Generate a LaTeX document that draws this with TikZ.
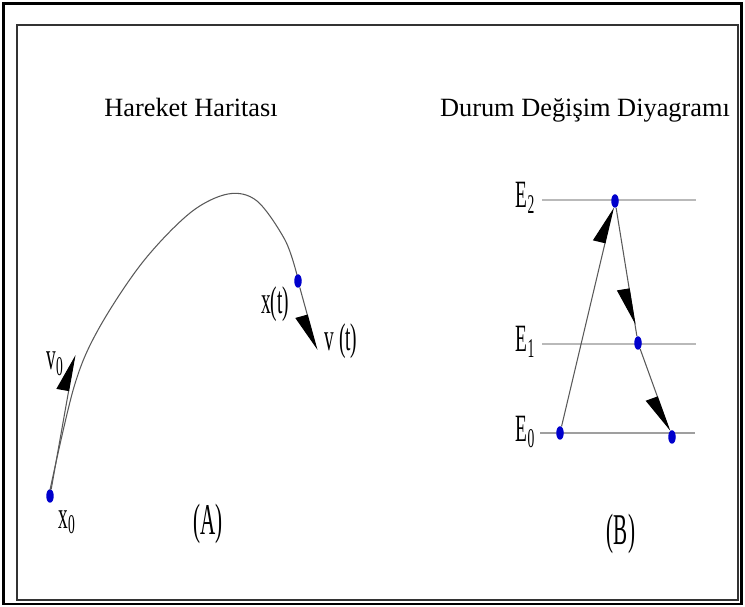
\documentclass[tikz,border=0pt]{standalone}
\usepackage{fontspec}
\setmainfont{Liberation Serif}
\usetikzlibrary{positioning,arrows.meta,shapes.geometric,decorations.markings}

\begin{document}
\begin{tikzpicture}[x=0.02cm, y=-0.02cm,
        dot/.style={ellipse, fill=blue!80!black, minimum width=0.15cm, minimum height=0.27cm, inner sep=0pt},
        title/.style={font=\fontsize{15}{18}\selectfont, anchor=base, inner sep=0pt},
        label/.style={font=\fontsize{22}{24}\selectfont, xscale=0.5, inner sep=0pt},
        big label/.style={font=\fontsize{25}{28}\selectfont, xscale=0.48, inner sep=0pt},
        curve/.style={gray!70!black, line width=0.6pt},
        level/.style={gray!55, line width=1.1pt},
        up arrow/.style={-{Triangle[left,length=20pt,width=14pt,color=black]}, gray!70!black, line width=0.6pt},
        down arrow/.style={-{Triangle[right,length=20pt,width=14pt,color=black]}, gray!70!black, line width=0.6pt},
        mid arrow/.style={gray!70!black, line width=0.6pt, postaction={decorate},
            decoration={markings, mark=at position #1 with {\arrow{Triangle[right,length=20pt,width=14pt,color=black]}}}}
    ]
    \useasboundingbox (0,0) rectangle (745,607);
    % Frames
    \draw[line width=1.7pt] (3.5,3.5) rectangle (741.5,604);
    \draw[line width=1pt, gray!40!black] (17,25) rectangle (738,600);

    % Titles
    \node[title] (tA) at (191,117) {Hareket Haritası};
    \node[title] (tB) at (585,117) {Durum Değişim Diyagramı};

    % (A) motion map
    \node[dot] (x0) at (50,496) {};
    \node[dot] (xt) at (298,281) {};
    \coordinate (v0tip) at (75,355);
    \coordinate (vttip) at (317,350);
    \draw[curve] plot[smooth, tension=0.55] coordinates {(50,490) (74,387) (98,330) (142,263) (190,213) (228,194) (257,201) (285,240) (297,275)};
    \draw[up arrow] (x0) -- (v0tip);
    \draw[down arrow] (xt) -- (vttip);
    \node[label] (lv0) at (55,364) {v\textsubscript{0}};
    \node[label] (lx0) at (67,522) {x\textsubscript{0}};
    \node[label] (lxt) at (275,304) {x(t)};
    \node[label] (lvt) at (341,341) {v (t)};
    \node[big label] (lA) at (208,524) {(A)};

    % (B) state diagram
    \coordinate (l2a) at (542,200); \coordinate (l2b) at (696,200);
    \coordinate (l1a) at (542,344); \coordinate (l1b) at (696,344);
    \coordinate (l0a) at (540,433); \coordinate (l0b) at (695,433);
    \draw[level] (l2a) -- (l2b);
    \draw[level] (l1a) -- (l1b);
    \draw[level, gray!75] (l0a) -- (l0b);
    \node[label, anchor=base east] (E2) at (535,208) {E\textsubscript{2}};
    \node[label, anchor=base east] (E1) at (535,352) {E\textsubscript{1}};
    \node[label, anchor=base east] (E0) at (535,442) {E\textsubscript{0}};
    \node[dot] (e2) at (615,201) {};
    \node[dot] (e1) at (638,343) {};
    \node[dot] (e0a) at (560,433) {};
    \node[dot] (e0b) at (672,437) {};
    \draw[up arrow] (e0a) -- (e2);
    \draw[mid arrow=0.91] (e2) -- (e1);
    \draw[down arrow] (e1) -- (e0b);
    \node[big label] (lB) at (621,534) {(B)};
\end{tikzpicture}
\end{document}
